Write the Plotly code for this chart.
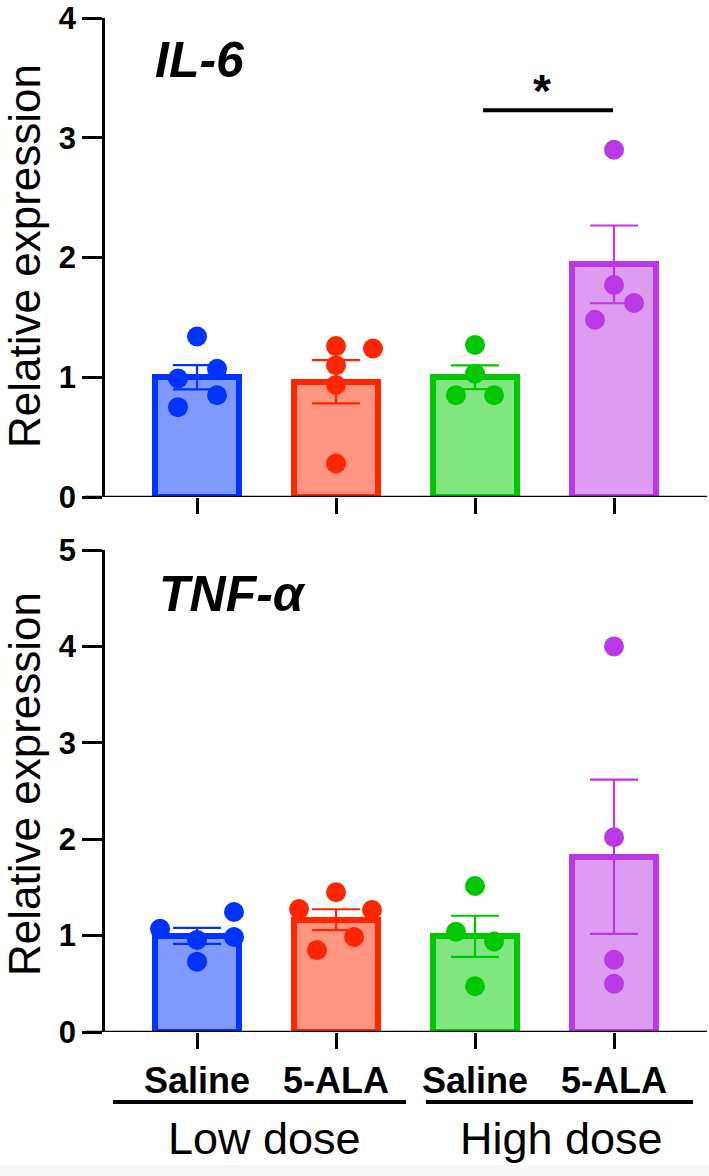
import numpy as np
import plotly.graph_objects as go

# ---------------- data ----------------
groups = ["Saline", "5-ALA", "Saline", "5-ALA"]
doses = ["Low dose", "High dose"]
panel_titles = ["<b><i>IL-6</i></b>", "<b><i>TNF-α</i></b>"]
y_title = "Relative expression"

il6_low_saline = [1.34, 0.99, 1.07, 0.85, 0.75]
il6_low_ala = [1.26, 1.10, 0.935, 0.28, 1.24]
il6_high_saline = [1.27, 1.03, 0.85, 0.85]
il6_high_ala = [2.90, 1.77, 1.62, 1.48]

tnf_low_saline = [1.07, 1.245, 0.985, 0.955, 0.73]
tnf_low_ala = [1.275, 1.45, 1.265, 0.985, 0.85]
tnf_high_saline = [1.515, 1.04, 0.94, 0.475]
tnf_high_ala = [4.00, 2.02, 0.75, 0.50]

il6_ticks = [0, 1, 2, 3, 4]
tnf_ticks = [0, 1, 2, 3, 4, 5]

# ---------------- style ----------------
W, H = 709, 1176
border = ["#0033FF", "#FF2600", "#00C800", "#BB38E6"]
fill = ["#8099FF", "#FF9580", "#80E680", "#DD9CF2"]
FONT = "Arial, Liberation Sans, Helvetica, sans-serif"

# horizontal jitter (in category units) of the dots, as laid out by the original software
il6_jit = [[0, -0.137, 0.144, 0.144, -0.137],
           [0, 0, 0, 0, 0.266],
           [0, 0, -0.137, 0.137],
           [0, 0, 0.144, -0.137]]
tnf_jit = [[-0.266, 0.266, 0.266, 0, 0],
           [-0.266, 0, 0.259, 0.13, -0.137],
           [0, -0.137, 0.137, 0],
           [0, 0, 0, 0]]

def px_x(p):
    return p / W

def px_y(p):
    return 1 - p / H

fig = go.Figure()

panels = [
    ([il6_low_saline, il6_low_ala, il6_high_saline, il6_high_ala], il6_jit, "x", "y"),
    ([tnf_low_saline, tnf_low_ala, tnf_high_saline, tnf_high_ala], tnf_jit, "x2", "y2"),
]

for vals_list, jit, xa, ya in panels:
    for i, vals in enumerate(vals_list):
        v = np.array(vals, dtype=float)
        mean = v.mean()
        sem = v.std(ddof=1) / np.sqrt(len(v))
        fig.add_trace(go.Bar(
            x=[i], y=[mean], width=0.604,
            marker=dict(color=fill[i], line=dict(color=border[i], width=6)),
            error_y=dict(type="data", array=[sem], symmetric=True,
                         color=border[i], thickness=2.2, width=24),
            xaxis=xa, yaxis=ya, showlegend=False, hoverinfo="skip",
        ))
        fig.add_trace(go.Scatter(
            x=[i + j for j in jit[i]], y=vals, mode="markers",
            marker=dict(color=border[i], size=20, line=dict(width=0)),
            xaxis=xa, yaxis=ya, showlegend=False, hoverinfo="skip",
        ))

x_dom = [px_x(105), px_x(707)]
x_rng = [-0.662, 3.669]
top_dom = [px_y(497), px_y(18)]
bot_dom = [px_y(1032), px_y(550)]

xcommon = dict(range=x_rng, domain=x_dom, showline=False, showgrid=False, zeroline=False,
               tickvals=[0, 1, 2, 3], ticks="outside", ticklen=16, tickwidth=2.5,
               tickcolor="black", showticklabels=False, fixedrange=True, automargin=False)
ycommon = dict(showline=True, linewidth=2.5, linecolor="black", showgrid=False, zeroline=False,
               ticks="outside", ticklen=20, tickwidth=2.5, tickcolor="black",
               tickfont=dict(family=FONT, size=31, color="black", weight=700),
               ticklabeloverflow="allow", automargin=False, fixedrange=True)

fig.update_layout(
    template="none",
    width=W, height=H, margin=dict(l=0, r=0, t=0, b=0, pad=0, autoexpand=False),
    paper_bgcolor="white", plot_bgcolor="rgba(0,0,0,0)",
    bargap=0, barmode="overlay",
    xaxis=dict(**xcommon, anchor="y"),
    xaxis2=dict(**xcommon, anchor="y2"),
    yaxis=dict(**ycommon, anchor="x", domain=top_dom, range=[0, il6_ticks[-1]], tickvals=il6_ticks),
    yaxis2=dict(**ycommon, anchor="x2", domain=bot_dom, range=[0, tnf_ticks[-1]], tickvals=tnf_ticks),
)

shapes = []
annotations = []

# x-axis baselines extending slightly left of the y axis (GraphPad style)
for ya in ["y", "y2"]:
    shapes.append(dict(type="line", xref="paper", yref=ya, x0=px_x(85), x1=px_x(707),
                       y0=0, y1=0, line=dict(color="black", width=2.5), layer="above"))

# significance bar
shapes.append(dict(type="line", xref="x", yref="y", x0=2.058, x1=2.993, y0=3.23, y1=3.23,
                   line=dict(color="black", width=4)))
annotations.append(dict(text="<b>*</b>", xref="x", yref="y", x=2.48, y=3.39,
                        showarrow=False, font=dict(family=FONT, size=46, color="black"),
                        xanchor="center", yanchor="middle"))

# panel titles
annotations.append(dict(text=panel_titles[0], xref="paper", yref="paper",
                        x=px_x(200), y=px_y(60), showarrow=False,
                        font=dict(family=FONT, size=50, color="black"),
                        xanchor="center", yanchor="middle"))
annotations.append(dict(text=panel_titles[1], xref="paper", yref="paper",
                        x=px_x(157), y=px_y(594), showarrow=False,
                        font=dict(family=FONT, size=50, color="black"),
                        xanchor="left", yanchor="middle"))

# y titles
for yc in [256, 784]:
    annotations.append(dict(text=y_title, xref="paper", yref="paper", x=px_x(24), y=px_y(yc),
                            showarrow=False, textangle=-90,
                            font=dict(family=FONT, size=44, color="black"),
                            xanchor="center", yanchor="middle"))

# category labels
for i, g in enumerate(groups):
    annotations.append(dict(text=f"<b>{g}</b>", xref="x2", yref="paper", x=i, y=px_y(1080),
                            showarrow=False, font=dict(family=FONT, size=36, color="black"),
                            xanchor="center", yanchor="middle"))

# dose group lines and labels
for (a, b), lbl, cx in [((-0.604, 1.504), doses[0], 0.482), ((1.647, 3.568), doses[1], 2.619)]:
    shapes.append(dict(type="line", xref="x2", yref="paper", x0=a, x1=b,
                       y0=px_y(1102), y1=px_y(1102), line=dict(color="black", width=4)))
    annotations.append(dict(text=lbl, xref="x2", yref="paper", x=cx, y=px_y(1138),
                            showarrow=False, font=dict(family=FONT, size=45, color="black"),
                            xanchor="center", yanchor="middle"))

# light grey strip at the bottom edge
shapes.append(dict(type="rect", xref="paper", yref="paper", x0=0, x1=1, y0=0, y1=px_y(1165),
                   fillcolor="#f6f6f6", line=dict(width=0), layer="below"))

fig.update_layout(shapes=shapes, annotations=annotations)
fig.write_html("out.html", config={"displayModeBar": False},
               post_script="document.body.style.margin='0';document.body.style.overflow='hidden';")
